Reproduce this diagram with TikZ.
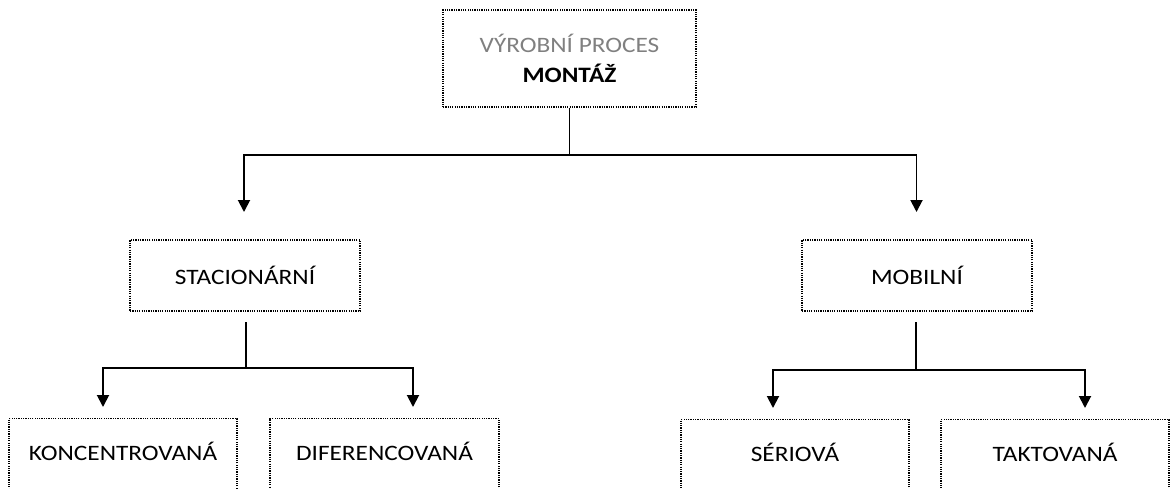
\documentclass[tikz,border=0pt]{standalone}
\usepackage{fontspec}
\setmainfont{Carlito}[FakeStretch=1.15]
\usetikzlibrary{arrows.meta}
\definecolor{softgray}{RGB}{128,128,128}
\tikzset{
  box/.style={draw=black, line width=1.2pt, dash pattern=on 1.2pt off 1.1pt,
    rectangle, inner sep=0pt, align=center, font=\fontsize{22}{26}\selectfont},
  wire/.style={line width=1.9pt, black},
  arrowwire/.style={wire, -{Triangle[width=12pt,length=12pt]}},
}
\begin{document}
\begin{tikzpicture}[x=1pt, y=-1pt]
  \useasboundingbox (0,0) rectangle (1170,488);
  \clip (0,0) rectangle (1170,488);

  % top level
  \node[box, minimum width=253pt, minimum height=97pt] (root) at (569.5,58.5)
    {\textcolor{softgray}{VÝROBNÍ PROCES}\\[4.5pt]\textbf{MONTÁŽ}};

  % second level
  \node[box, minimum width=230pt, minimum height=71pt] (stac) at (245,275.5) {STACIONÁRNÍ};
  \node[box, minimum width=230pt, minimum height=71pt] (mob) at (917,275.5) {MOBILNÍ};

  % third level (boxes run past the lower edge)
  \tikzset{low/.style={box, anchor=north, text height=42pt, text depth=60pt}}
  \node[low, minimum width=228pt] (konc) at (123,418) {KONCENTROVANÁ};
  \node[low, minimum width=229pt] (dif)  at (384.5,418) {DIFERENCOVANÁ};
  \node[low, minimum width=228pt] (ser)  at (795,419) {SÉRIOVÁ};
  \node[low, minimum width=228pt] (takt) at (1055,419) {TAKTOVANÁ};

  % junction points
  \coordinate (j0) at (root.south |- 0,155);
  \coordinate (a1) at (244,212);
  \coordinate (a2) at (916.5,212);
  \coordinate (s0) at (246,322);
  \coordinate (j1) at (246,368);
  \coordinate (m0) at (916,322);
  \coordinate (j2) at (916,370);

  % root -> second level
  \draw[wire] (root.south) -- (j0);
  \draw[arrowwire] (j0) -| (a1);
  \draw[arrowwire] (j0) -| (a2);

  % stationary branch
  \draw[wire] (s0) -- (j1);
  \draw[arrowwire] (j1) -| (103,407);
  \draw[arrowwire] (j1) -| (413,407);

  % mobile branch
  \draw[wire] (m0) -- (j2);
  \draw[arrowwire] (j2) -| (773,408);
  \draw[arrowwire] (j2) -| (1085,408);
\end{tikzpicture}
\end{document}
